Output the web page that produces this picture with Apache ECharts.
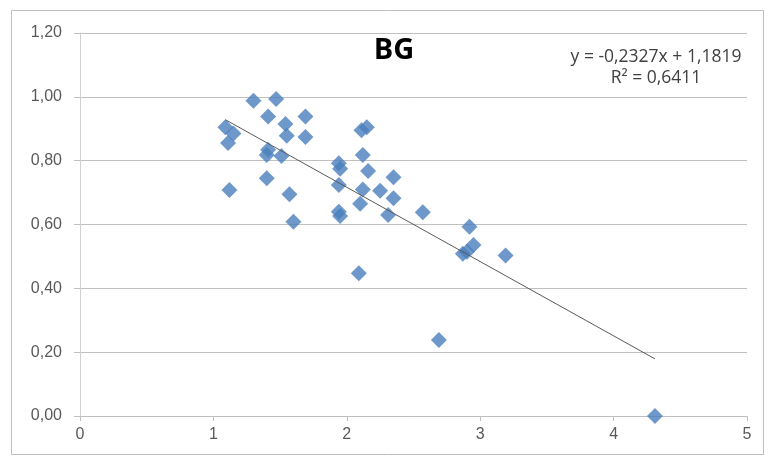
<!DOCTYPE html>
<html>
<head>
<meta charset="utf-8">
<script src="https://cdn.jsdelivr.net/npm/echarts@6/dist/echarts.min.js"></script>
<style>
html,body{margin:0;padding:0;background:#fff;}
#c{width:768px;height:466px;}
</style>
</head>
<body>
<div id="c"></div>
<script>
const xValues = [1.09,1.11,1.15,1.12,1.30,1.47,1.41,1.69,1.54,1.55,1.69,1.41,1.40,1.51,1.40,1.57,1.60,
  1.94,1.95,1.94,1.94,1.95,2.11,2.15,2.12,2.16,2.12,2.25,2.35,2.35,2.10,2.31,2.57,2.09,2.69,2.92,2.95,2.87,2.90,3.19,4.31];
const yValues = [0.905,0.855,0.885,0.708,0.988,0.993,0.938,0.938,0.915,0.878,0.874,0.834,0.818,0.815,0.745,0.695,0.609,
  0.792,0.775,0.724,0.640,0.627,0.895,0.905,0.818,0.768,0.710,0.706,0.748,0.682,0.665,0.630,0.638,0.447,0.238,0.593,0.536,0.508,0.515,0.503,0.000];
const trendSlope = -0.2327;
const trendIntercept = 1.1819;
const rSquared = 0.6411;
const titleText = 'BG';
const yTicks = ['0,00','0,20','0,40','0,60','0,80','1,00','1,20'];

const points = xValues.map((x, i) => [x, yValues[i]]);
const xMin = Math.min(...xValues), xMax = Math.max(...xValues);
const trend = [[xMin, trendIntercept + trendSlope * xMin], [xMax, trendIntercept + trendSlope * xMax]];
const fmt = (v, d) => v.toFixed(d).replace('.', ',');
const eqText = 'y = ' + fmt(trendSlope, 4) + 'x + ' + fmt(trendIntercept, 4) + '\nR² = ' + fmt(rSquared, 4);

const chart = echarts.init(document.getElementById('c'), null, {renderer: 'canvas'});
chart.setOption({
  backgroundColor: '#ffffff',
  animation: false,
  graphic: [{
    type: 'rect', left: 9, top: 8, shape: {width: 752, height: 444},
    style: {fill: 'none', stroke: '#bfbfbf', lineWidth: 1}, silent: true
  }],
  title: [
    {text: titleText, left: 389, top: 31, textAlign: 'center',
     textStyle: {fontFamily: 'Open Sans', fontWeight: 'bold', fontSize: 29, color: '#000'}},
    {text: eqText, left: 651, top: 42, textAlign: 'center',
     textStyle: {fontFamily: 'Open Sans', fontWeight: 'normal', fontSize: 17.5, color: '#404040', lineHeight: 21}}
  ],
  grid: {left: 80, right: 21, top: 33, bottom: 50},
  xAxis: {
    type: 'value', min: 0, max: 5, interval: 1,
    axisLine: {show: true, lineStyle: {color: '#bfbfbf'}},
    axisTick: {show: true, length: 5, lineStyle: {color: '#bfbfbf'}},
    splitLine: {show: false},
    axisLabel: {color: '#595959', fontFamily: 'Liberation Sans', fontSize: 16, margin: 11}
  },
  yAxis: {
    type: 'value', min: 0, max: 1.2, interval: 0.2,
    axisLine: {show: true, lineStyle: {color: '#d0d0d0'}},
    axisTick: {show: true, length: 6, lineStyle: {color: '#bfbfbf'}},
    splitLine: {show: true, lineStyle: {color: '#c0c0c0', width: 1}},
    axisLabel: {color: '#595959', fontFamily: 'Liberation Sans', fontSize: 16, margin: 18,
      formatter: v => yTicks[Math.round(v / 0.2)]}
  },
  series: [
    {type: 'line', data: trend, symbol: 'none', lineStyle: {color: '#5a5a5a', width: 1}, z: 3},
    {type: 'scatter', data: points, symbol: 'diamond', symbolSize: [16, 16],
     itemStyle: {color: '#4a7ebb'}, z: 2}
  ]
});
</script>
</body>
</html>
